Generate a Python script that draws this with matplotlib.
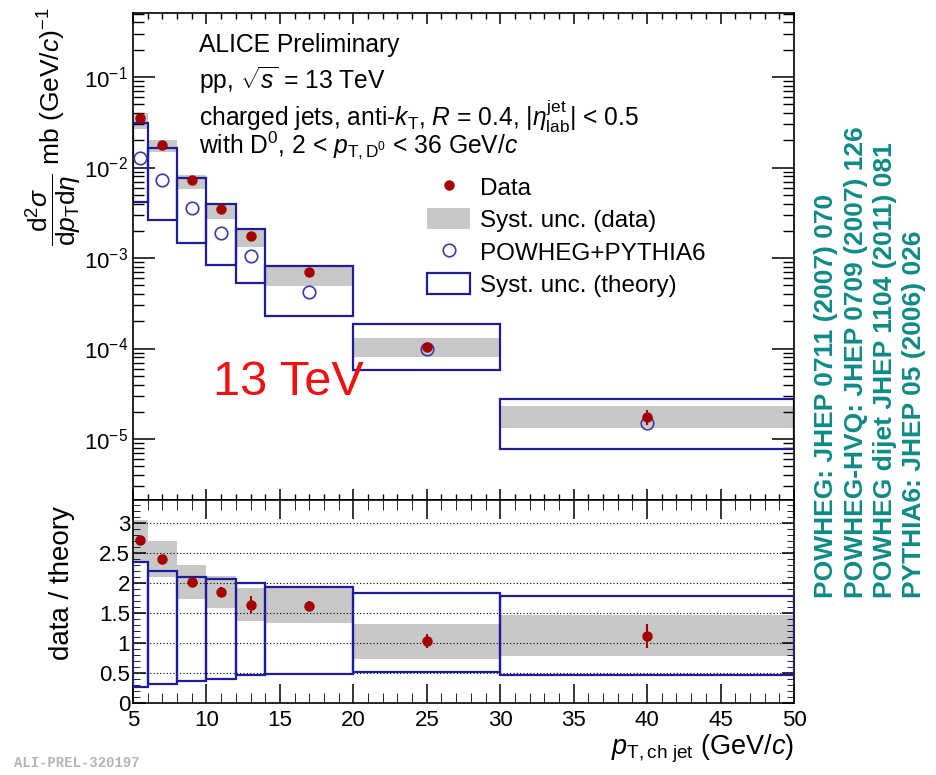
import matplotlib
matplotlib.use("Agg")
import matplotlib.pyplot as plt
from matplotlib.patches import Rectangle, Patch
from matplotlib.lines import Line2D
from matplotlib.ticker import MultipleLocator, LogLocator, NullFormatter, FuncFormatter

plt.rcParams["font.family"] = ["Liberation Sans", "DejaVu Sans"]
plt.rcParams["mathtext.fontset"] = "custom"
plt.rcParams["mathtext.rm"] = "Liberation Sans"
plt.rcParams["mathtext.it"] = "Liberation Sans:italic"
plt.rcParams["mathtext.bf"] = "Liberation Sans:bold"

# binning (GeV/c)
bin_edges = [5, 6, 8, 10, 12, 14, 20, 30, 50]
pt_centers = [5.5, 7, 9, 11, 13, 17, 25, 40]

# cross section, mb (GeV/c)^-1
xsec_data = [0.0349, 0.0177, 0.00728, 0.00348, 0.00175, 6.95e-4, 1.04e-4, 1.76e-5]
xsec_syst_lo = [0.0268, 0.0148, 0.00578, 0.00272, 0.00133, 4.9e-4, 8.0e-5, 1.33e-5]
xsec_syst_hi = [0.0401, 0.0201, 0.00834, 0.00392, 0.00202, 7.9e-4, 1.32e-4, 2.3e-5]
xsec_theory = [0.0126, 0.0073, 0.0036, 0.00188, 0.00105, 4.18e-4, 9.8e-5, 1.51e-5]
theory_lo = [0.00412, 0.00263, 0.00145, 8.38e-4, 5.25e-4, 2.31e-4, 5.78e-5, 7.7e-6]
theory_hi = [0.0308, 0.0163, 0.0076, 0.00392, 0.00209, 8.22e-4, 1.85e-4, 2.75e-5]

# data / theory
ratio = [2.72, 2.40, 2.01, 1.85, 1.64, 1.62, 1.03, 1.12]
ratio_stat = [0.05, 0.04, 0.05, 0.09, 0.14, 0.08, 0.12, 0.20]
ratio_syst_lo = [2.35, 2.09, 1.73, 1.58, 1.37, 1.33, 0.74, 0.79]
ratio_syst_hi = [3.05, 2.70, 2.30, 2.12, 1.92, 1.93, 1.31, 1.47]
ratio_theory_lo = [0.26, 0.32, 0.37, 0.40, 0.46, 0.49, 0.52, 0.46]
ratio_theory_hi = [2.35, 2.20, 2.09, 2.06, 2.00, 1.94, 1.84, 1.78]

refs = [
    "POWHEG: JHEP 0711 (2007) 070",
    "POWHEG-HVQ: JHEP 0709 (2007) 126",
    "POWHEG dijet JHEP 1104 (2011) 081",
    "PYTHIA6: JHEP 05 (2006) 026",
]

RED = "#a50000"
BLUE = "#1c1c9c"
CIRC = "#3a3aa8"
GREY = "#c8c8c8"
TEAL = "#0e8a87"

fig = plt.figure(figsize=(9.36, 7.75), dpi=100)
ax = fig.add_axes([0.1421, 0.3548, 0.7062, 0.6284])
axr = fig.add_axes([0.1421, 0.0929, 0.7062, 0.2619])

# ---- upper panel ----
for i in range(len(pt_centers)):
    x0, x1 = bin_edges[i], bin_edges[i + 1]
    ax.add_patch(Rectangle((x0, xsec_syst_lo[i]), x1 - x0, xsec_syst_hi[i] - xsec_syst_lo[i],
                           facecolor=GREY, edgecolor="none", zorder=1))
    ax.add_patch(Rectangle((x0, theory_lo[i]), x1 - x0, theory_hi[i] - theory_lo[i],
                           facecolor="none", edgecolor=BLUE, lw=1.6, zorder=2))
ax.plot(pt_centers, xsec_theory, "o", ms=9, mfc="none", mec=CIRC, mew=1.2, zorder=3)
xsec_stat = [d * s / r for d, s, r in zip(xsec_data, ratio_stat, ratio)]
ax.errorbar(pt_centers, xsec_data, yerr=xsec_stat, fmt="o", ms=6.5, color=RED, lw=1.5, zorder=4)

ax.set_yscale("log")
ax.set_xlim(5, 50)
ax.set_ylim(2.12e-6, 0.509)
ax.xaxis.set_major_locator(MultipleLocator(5))
ax.xaxis.set_minor_locator(MultipleLocator(1))
ax.yaxis.set_major_locator(LogLocator(base=10))
ax.yaxis.set_minor_locator(LogLocator(base=10, subs=range(2, 10)))
ax.yaxis.set_minor_formatter(NullFormatter())
ax.tick_params(axis="both", which="both", direction="in", top=True, right=True)
ax.tick_params(axis="y", which="major", length=16, width=1.1, labelsize=16)
ax.tick_params(axis="y", which="minor", length=8, width=1.0)
ax.tick_params(axis="x", which="major", length=8, width=1.1, labelbottom=False)
ax.tick_params(axis="x", which="minor", length=4, width=1.0)
for s in ax.spines.values():
    s.set_linewidth(1.2)

ax.text(0.10, 0.935, "ALICE Preliminary", transform=ax.transAxes, fontsize=17.7, va="center")
ax.text(0.10, 0.862, r"pp, $\sqrt{s}$ = 13 TeV", transform=ax.transAxes, fontsize=17.7, va="center")
ax.text(0.10, 0.788, r"charged jets, anti-$k_{\mathrm{T}}$, $R$ = 0.4, |$\eta^{\mathrm{jet}}_{\mathrm{lab}}$| < 0.5",
        transform=ax.transAxes, fontsize=17.7, va="center")
ax.text(0.10, 0.728, r"with D$^{0}$, 2 < $p_{\mathrm{T,D^{0}}}$ < 36 GeV/$c$",
        transform=ax.transAxes, fontsize=17.7, va="center")
ax.text(0.235, 0.242, "13 TeV", transform=ax.transAxes, fontsize=35, color="#ee1111",
        va="center", ha="center")

handles = [
    Line2D([], [], ls="none", marker="o", ms=6.5, color=RED),
    Patch(facecolor=GREY, edgecolor="none"),
    Line2D([], [], ls="none", marker="o", ms=9, mfc="none", mec=CIRC, mew=1.2),
    Patch(facecolor="none", edgecolor=BLUE, lw=1.6),
]
labels = ["Data", "Syst. unc. (data)", "POWHEG+PYTHIA6", "Syst. unc. (theory)"]
ax.legend(handles, labels, loc="upper left", bbox_to_anchor=(0.445, 0.666), frameon=False,
          fontsize=17.5, handlelength=1.77, handleheight=0.95, labelspacing=0.36,
          handletextpad=0.4, borderpad=0, borderaxespad=0)

fig.text(53 / 936, 1 - 8 / 775,
         r"$\dfrac{\mathrm{d}^{2}\sigma}{\mathrm{d}p_{\mathrm{T}}\mathrm{d}\eta}$ mb (GeV/$c$)$^{-1}$",
         rotation=90, ha="center", va="top", fontsize=19)

# ---- ratio panel ----
for i in range(len(pt_centers)):
    x0, x1 = bin_edges[i], bin_edges[i + 1]
    axr.add_patch(Rectangle((x0, ratio_syst_lo[i]), x1 - x0, ratio_syst_hi[i] - ratio_syst_lo[i],
                            facecolor=GREY, edgecolor="none", zorder=1))
    axr.add_patch(Rectangle((x0, ratio_theory_lo[i]), x1 - x0, ratio_theory_hi[i] - ratio_theory_lo[i],
                            facecolor="none", edgecolor=BLUE, lw=1.6, zorder=3))
for yv in [0.5, 1.0, 1.5, 2.0, 2.5, 3.0]:
    axr.axhline(yv, color="black", ls=(0, (1, 2)), lw=0.8, zorder=2)
axr.errorbar(pt_centers, ratio, yerr=ratio_stat, fmt="o", ms=6.5, color=RED, lw=1.5, zorder=4)

axr.set_xlim(5, 50)
axr.set_ylim(0, 3.38)
axr.xaxis.set_major_locator(MultipleLocator(5))
axr.xaxis.set_minor_locator(MultipleLocator(1))
axr.yaxis.set_major_locator(MultipleLocator(0.5))
axr.yaxis.set_minor_locator(MultipleLocator(0.1))
axr.yaxis.set_major_formatter(FuncFormatter(lambda v, p: f"{v:g}"))
axr.tick_params(axis="both", which="both", direction="in", top=True, right=True)
axr.tick_params(axis="both", which="major", labelsize=16, width=1.1)
axr.tick_params(axis="x", which="major", length=14, pad=5)
axr.tick_params(axis="x", which="minor", length=7)
axr.tick_params(axis="y", which="major", length=9, pad=2)
axr.tick_params(axis="y", which="minor", length=5)
for s in axr.spines.values():
    s.set_linewidth(1.2)

axr.set_xlabel(r"$p_{\mathrm{T,ch\ jet}}$ (GeV/$c$)", fontsize=19.5, loc="right", labelpad=1)
fig.text(62 / 936, 1 - 583 / 775, "data / theory", rotation=90, ha="center", va="center", fontsize=20)

# references
for k, txt in enumerate(refs):
    fig.text((826 + 29.5 * k) / 936, 1 - 598 / 775, txt, rotation=90, ha="center", va="bottom",
             fontsize=19, fontweight="bold", color=TEAL)

fig.text(14 / 936, 1 - 767 / 775, "ALI-PREL-320197", fontsize=10, fontweight="bold",
         family="Liberation Mono", color="#b4b4b4", va="baseline")

fig.savefig("out.png", dpi=100)
